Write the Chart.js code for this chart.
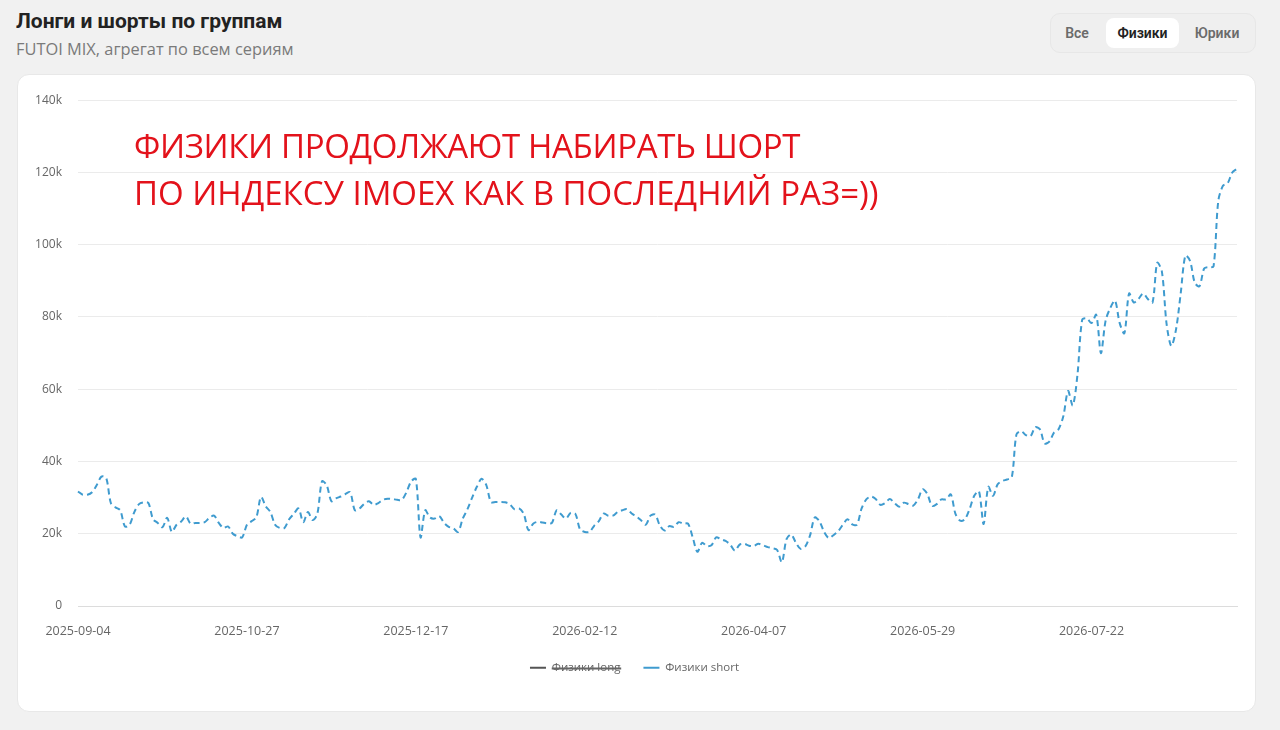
<!DOCTYPE html>
<html>
<head>
<meta charset="utf-8">
<script src="https://cdn.jsdelivr.net/npm/chart.js@4.4.1/dist/chart.umd.min.js"></script>
<style>
  html, body { margin: 0; padding: 0; background: #f1f1f1; }
  body { width: 1280px; height: 730px; position: relative; overflow: hidden; font-family: Roboto, "Open Sans", sans-serif; }
  .title { position: absolute; left: 16px; top: 9px; font-size: 21px; font-weight: 700; color: #222; }
  .subtitle { position: absolute; left: 16px; top: 37px; font-family: "Open Sans", sans-serif; font-size: 16.4px; color: #7a7a7a; }
  .tabs { position: absolute; left: 1050px; top: 13px; width: 206px; height: 40px; border-radius: 10px; background: #efefef; border: 1px solid #e7e7e7; box-sizing: border-box; }
  .tab { position: absolute; top: 4px; height: 30px; line-height: 30px; font-size: 14px; font-weight: 600; color: #6b6b6b; text-align: center; }
  .tab.active { background: #fff; color: #222; border-radius: 8px; }
  .card { position: absolute; left: 17px; top: 74px; width: 1239px; height: 638px; background: #fff; border-radius: 12px; border: 1px solid #e8e8e8; box-sizing: border-box; }
  #wrap { position: absolute; left: 20px; top: 77px; width: 1230px; height: 620px; }
  .note { position: absolute; left: 134px; top: 122px; color: #e3121b; font-family: "Open Sans", sans-serif; font-size: 33px; line-height: 47px; white-space: nowrap; }
  .note .l1 { letter-spacing: -0.35px; }
</style>
</head>
<body>
<div class="title">Лонги и шорты по группам</div>
<div class="subtitle">FUTOI MIX, агрегат по всем сериям</div>
<div class="tabs">
  <div class="tab" style="left:4px;width:44px;">Все</div>
  <div class="tab active" style="left:55px;width:73px;">Физики</div>
  <div class="tab" style="left:134px;width:64px;">Юрики</div>
</div>
<div class="card"></div>
<div id="wrap"><canvas id="chart"></canvas></div>
<div class="note"><span class="l1">ФИЗИКИ ПРОДОЛЖАЮТ НАБИРАТЬ ШОРТ</span><br>ПО ИНДЕКСУ IMOEX КАК В ПОСЛЕДНИЙ РАЗ=))</div>

<script>
// dates shown on the x axis (every 36th trading day)
const tickDates = ["2025-09-04", "2025-10-27", "2025-12-17", "2026-02-12", "2026-04-07", "2026-05-29", "2026-07-22"];
// non-trading weekdays
const skipDays = ["2025-10-13", "2025-11-04", "2026-01-01", "2026-01-02", "2026-01-05", "2026-01-06", "2026-01-07",
  "2026-02-23", "2026-03-09", "2026-05-01", "2026-05-11", "2026-06-12", "2026-06-15"];

// Физики short, thousands of contracts
const shortValues = [
  31.7, 30.8, 30.8, 31.5, 33.5, 35.8, 35.5, 28.5, 27.3, 26.5,
  22, 22.5, 26, 28.2, 28.7, 28.5, 24, 23, 21.8, 24.4,
  20.5, 22.5, 23.4, 24.8, 22.8, 23, 23, 23.2, 24.4, 25,
  23, 21.6, 22, 20, 19.3, 19, 22.5, 23.5, 24.5, 30.2,
  27.6, 26, 22.5, 21.6, 21.6, 24, 25.5, 27, 23.2, 26,
  23.8, 25.5, 34.5, 33.4, 29, 29.8, 30.3, 31, 31.5, 26.5,
  27, 28.3, 29, 28, 28.5, 29.4, 29.7, 29.6, 29.4, 29.4,
  31.5, 34.5, 35.2, 19, 26.5, 24.5, 24.2, 24.9, 23, 21.9,
  21.5, 20.5, 24.2, 26.8, 30, 33, 35.2, 33.5, 28.8, 28.8,
  28.8, 28.7, 28.2, 26.8, 27, 25.5, 21, 22.8, 23.3, 23.1,
  22.9, 23, 26.5, 25.3, 24.2, 25.8, 25.5, 21.2, 20.5, 20.5,
  22.2, 23.5, 25.6, 25, 25, 26, 26.5, 26.8, 25.6, 24.8,
  23.7, 22.5, 25, 25.3, 22.3, 20.9, 22.1, 21.9, 23.2, 22.8,
  22.8, 19, 15, 17.5, 16.6, 16.8, 19, 18.5, 18, 17,
  15.3, 17, 17.2, 16.7, 16.6, 17.2, 16.8, 16.3, 16, 15.5,
  12.1, 18.5, 19.8, 17.5, 15.8, 16.5, 19.5, 24.5, 23.5, 20.5,
  18.8, 19.6, 20.7, 22.5, 24, 22.6, 22.5, 27, 29.5, 30.3,
  29.6, 28, 28.5, 29.6, 28.5, 27.5, 28.6, 28.2, 27.8, 29.5,
  32.3, 31, 27.7, 28.2, 29.5, 29.5, 30.9, 25.5, 23.6, 24,
  26.8, 30.5, 31.8, 22.7, 33, 30.5, 33.7, 34.6, 35, 35.6,
  47.5, 48.4, 47.3, 47, 49.5, 48.9, 45, 45.5, 48, 49,
  52.6, 59.5, 55.5, 64, 79.2, 79.6, 78.3, 80.6, 70, 79,
  82.5, 84.5, 78.3, 75.5, 86.5, 84, 85, 86.5, 85, 84,
  95, 92.5, 78, 72, 76.5, 86.5, 97, 95.5, 89.5, 88.5,
  93.4, 93.8, 94, 112, 116.3, 117, 120, 121
];

// Физики long is switched off in the legend
const longValues = [];

const yTicks = [0, 20, 40, 60, 80, 100, 120, 140];

// build trading-day labels
function buildLabels(count) {
  const out = [];
  const d = new Date(tickDates[0] + "T00:00:00Z");
  while (out.length < count) {
    const s = d.toISOString().slice(0, 10);
    const wd = d.getUTCDay();
    if (wd !== 0 && wd !== 6 && !skipDays.includes(s)) out.push(s);
    d.setUTCDate(d.getUTCDate() + 1);
  }
  return out;
}
const labels = buildLabels(shortValues.length);

Chart.defaults.font.family = "'Open Sans', sans-serif";
Chart.defaults.color = "#666";

const ctx = document.getElementById("chart").getContext("2d");
new Chart(ctx, {
  type: "line",
  data: {
    labels: labels,
    datasets: [
      {
        label: "Физики long",
        data: longValues,
        borderColor: "#555555",
        backgroundColor: "#555555",
        borderWidth: 2,
        pointRadius: 0,
        hidden: true,
      },
      {
        label: "Физики short",
        data: shortValues,
        borderColor: "#3f9bcf",
        backgroundColor: "#3f9bcf",
        borderWidth: 2,
        borderDash: [6, 4],
        tension: 0.3,
        pointRadius: 0,
        fill: false,
      },
    ],
  },
  options: {
    responsive: true,
    maintainAspectRatio: false,
    animation: false,
    layout: {
      padding: { top: 17, right: 13, left: 12, bottom: 13.5 },
    },
    plugins: {
      legend: {
        position: "bottom",
        labels: {
          usePointStyle: true,
          pointStyle: "line",
          pointStyleWidth: 16,
          color: "#666",
          font: { size: 11.5 },
          padding: 23,
        },
      },
      tooltip: { enabled: false },
    },
    scales: {
      x: {
        grid: { display: false, drawTicks: false },
        border: { display: true, color: "#dcdcdc" },
        ticks: {
          maxRotation: 0,
          autoSkip: true,
          maxTicksLimit: tickDates.length,
          padding: 18,
          color: "#666",
          font: { size: 12.5 },
        },
        afterFit: (s) => { s.height = 33; },
      },
      y: {
        min: yTicks[0],
        max: yTicks[yTicks.length - 1],
        grid: { color: "#ebebeb", drawTicks: false },
        border: { display: false },
        ticks: {
          stepSize: 20,
          padding: 16,
          color: "#666",
          font: { size: 12 },
          callback: (v) => (v === 0 ? "0" : v + "k"),
        },
        afterFit: (s) => { s.width = 46; },
      },
    },
  },
});
</script>
</body>
</html>
